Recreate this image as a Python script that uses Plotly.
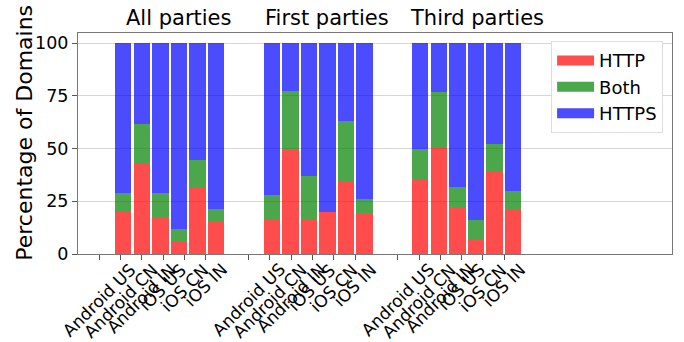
import plotly.graph_objects as go

# Panel names and the six app-store / country combinations in each panel
groups = ["All parties", "First parties", "Third parties"]
platforms = ["Android US", "Android CN", "Android IN", "iOS US", "iOS CN", "iOS IN"]

# Share of domains (%) contacted over HTTP only, both protocols, HTTPS only
http_all = [20.1, 43.0, 17.7, 6.2, 31.5, 15.5]
both_all = [8.9, 18.7, 11.1, 5.5, 13.1, 5.9]
https_all = [71.0, 38.3, 71.2, 88.3, 55.4, 78.6]

http_first = [16.3, 49.8, 16.0, 20.1, 34.7, 19.1]
both_first = [11.7, 27.3, 20.9, 0.0, 28.4, 6.8]
https_first = [72.0, 22.9, 63.1, 79.9, 36.9, 74.1]

http_third = [35.6, 50.8, 22.5, 6.8, 39.4, 21.4]
both_third = [14.2, 25.8, 9.1, 9.2, 12.8, 8.3]
https_third = [50.2, 23.4, 68.4, 84.0, 47.8, 70.3]

y_ticks = [0, 25, 50, 75, 100]

series = [
    ("HTTP", http_all + http_first + http_third, "rgba(255,0,0,0.7)"),
    ("Both", both_all + both_first + both_third, "rgba(0,128,0,0.7)"),
    ("HTTPS", https_all + https_first + https_third, "rgba(0,0,255,0.7)"),
]

# Layout of the x axis: tick labels sit on integer positions (7 per panel),
# bars sit in 8 slots per panel of the same panel width.
n = len(platforms)
BAR_OFFSET = 1.122
BAR_STEP = 0.871
bar_x = [BAR_OFFSET + BAR_STEP * (8 * g + i) for g in range(len(groups)) for i in range(n)]
tick_x = [7 * g + i for g in range(len(groups)) for i in range(n)]
tick_text = [p for _ in groups for p in platforms]
title_x = [7 * g + 3.7 for g in range(len(groups))]

fig = go.Figure()
for name, vals, color in series:
    fig.add_trace(go.Bar(
        x=bar_x, y=vals, name=name, width=0.77,
        marker=dict(color=color, line=dict(width=0)),
        legendgroup=name, showlegend=False,
    ))
# wide patches for the legend
for name, vals, color in series:
    fig.add_trace(go.Scatter(
        x=[None], y=[None], mode="lines", name=name, legendgroup=name,
        line=dict(color=color, width=12),
    ))

annotations = []
for x, t in zip(tick_x, tick_text):
    annotations.append(dict(
        x=x, y=0, xref="x", yref="paper", text=t, showarrow=False,
        textangle=-45, xanchor="center", yanchor="top", yshift=-3,
        font=dict(size=17, color="black"),
    ))
for x, t in zip(title_x, groups):
    annotations.append(dict(
        x=x, y=1.069, xref="x", yref="paper", text=t, showarrow=False,
        xanchor="center", yanchor="middle", font=dict(size=21, color="black"),
    ))
annotations.append(dict(
    x=-0.0901, y=0.551, xref="paper", yref="paper", text="Percentage of Domains",
    showarrow=False, textangle=-90, xanchor="center", yanchor="middle",
    font=dict(size=22, color="black"),
))

fig.update_layout(
    width=684, height=342,
    margin=dict(l=78, r=12, t=33, b=88),
    barmode="stack",
    plot_bgcolor="white", paper_bgcolor="white",
    font=dict(family="DejaVu Sans", color="black"),
    showlegend=True,
    legend=dict(
        x=0.985, xanchor="right", y=0.963, yanchor="top",
        bgcolor="white", bordercolor="#dddddd", borderwidth=1,
        font=dict(size=18), itemwidth=37, tracegroupgap=0,
    ),
    annotations=annotations,
)
fig.update_xaxes(
    range=[-1.0, 26.87], tickmode="array", tickvals=tick_x, showticklabels=False,
    ticks="outside", ticklen=5, tickcolor="#555555",
    showgrid=False, zeroline=False,
    showline=True, linecolor="#777777", linewidth=1, mirror=True,
)
fig.update_yaxes(
    range=[0, 104.8], tickmode="array", tickvals=y_ticks,
    ticks="outside", ticklen=5, tickcolor="#555555",
    tickfont=dict(size=17.5, color="black"),
    showgrid=True, gridcolor="#d6d6d6", gridwidth=1, zeroline=False,
    showline=True, linecolor="#777777", linewidth=1, mirror=True,
)

fig.write_html("out.html")
